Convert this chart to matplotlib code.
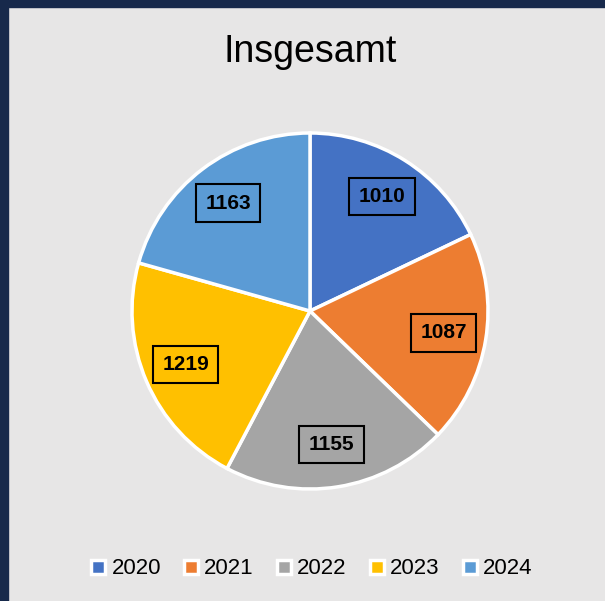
import matplotlib
matplotlib.use('Agg')
import matplotlib.pyplot as plt
from matplotlib.lines import Line2D
from matplotlib.patches import Rectangle

plt.rcParams['font.family'] = ['Liberation Sans', 'DejaVu Sans']

# Daten
years = ['2020', '2021', '2022', '2023', '2024']
values = [1010, 1087, 1155, 1219, 1163]
colors = ['#4472C4', '#ED7D31', '#A5A5A5', '#FFC000', '#5B9BD5']
title = 'Insgesamt'

bg = '#E7E6E6'
navy = '#17294B'

W, H = 605, 601
fig = plt.figure(figsize=(W / 100, H / 100), dpi=100, facecolor=bg)

# dark frame on top and left
fig.patches.append(Rectangle((0, 1 - 7 / H), 1, 7 / H, transform=fig.transFigure,
                             color=navy, zorder=0))
fig.patches.append(Rectangle((0, 0), 8 / W, 1, transform=fig.transFigure,
                             color=navy, zorder=0))

# pie axes: center (310, 311) px, radius 178 px
cx, cy, r = 310, 311, 178
ax = fig.add_axes([(cx - r) / W, (H - cy - r) / H, 2 * r / W, 2 * r / H])
ax.set_facecolor('none')

total = sum(values)
wedges, texts, autotexts = ax.pie(
    values,
    colors=colors,
    startangle=90,
    counterclock=False,
    autopct=lambda p: f'{p * total / 100:.0f}',
    pctdistance=0.76,
    wedgeprops=dict(edgecolor='white', linewidth=2.5),
    textprops=dict(fontsize=15, fontweight='bold', color='black'),
)
for t in autotexts:
    t.set_bbox(dict(boxstyle='square,pad=0.45', fc='none', ec='black', lw=1.5))
ax.set_xlim(-1, 1)
ax.set_ylim(-1, 1)
ax.set_aspect('equal')
ax.axis('off')

fig.text(cx / W, 1 - 52 / H, title, ha='center', va='center', fontsize=27)

handles = [Line2D([], [], linestyle='none', marker='s', markersize=10,
                  markerfacecolor=c, markeredgecolor='white', markeredgewidth=2.5)
           for c in colors]
fig.legend(handles, years, loc='center', bbox_to_anchor=(312 / W, 1 - 569 / H),
           ncol=5, frameon=False, fontsize=16, handlelength=0.6,
           handletextpad=0.3, columnspacing=1.05)

fig.savefig('out.png', dpi=100, facecolor=bg)
